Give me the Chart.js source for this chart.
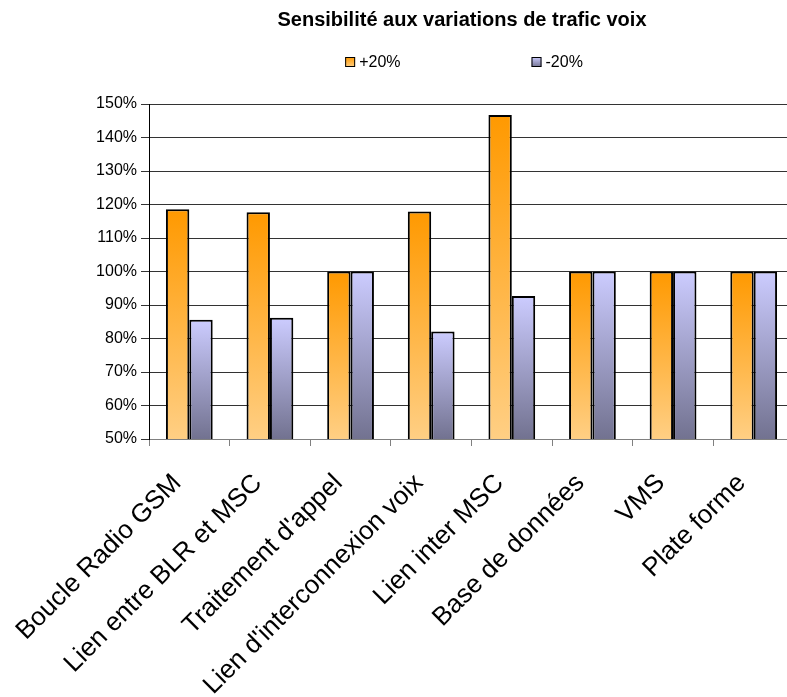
<!DOCTYPE html>
<html>
<head>
<meta charset="utf-8">
<script src="https://cdn.jsdelivr.net/npm/chart.js@4.4.1/dist/chart.umd.min.js"></script>
<style>
  html, body { margin: 0; padding: 0; background: #fff; overflow: hidden; }
  canvas { display: block; }
</style>
</head>
<body>
<canvas id="chart" width="924" height="697"></canvas>
<script>
const chartTitle = 'Sensibilité aux variations de trafic voix';
const categories = [
  'Boucle Radio GSM',
  'Lien entre BLR et MSC',
  "Traitement d'appel",
  "Lien d'interconnexion voix",
  'Lien inter MSC',
  'Base de données',
  'VMS',
  'Plate forme'
];
const seriesNames = ['+20%', '-20%'];
const plusValues = [118.6, 117.7, 100, 117.9, 146.7, 100, 100, 100];
const minusValues = [85.6, 86.2, 100, 82.1, 92.7, 100, 100, 100];
const yMin = 50;
const yMax = 150;
const yStep = 10;

const FONT = '"Liberation Sans", Arial, sans-serif';
const orange = ['#FF9900', '#FFCF84'];
const lavender = ['#CCCCFF', '#727290'];

// vertical gradient per bar, from its top down to the axis base
function barGradient(colors) {
  return (ctx) => {
    const chart = ctx.chart;
    if (!chart.chartArea || ctx.type !== 'data') return colors[1];
    const y = chart.scales.y;
    const top = y.getPixelForValue(ctx.raw);
    const base = y.getPixelForValue(yMin);
    const g = chart.ctx.createLinearGradient(0, top, 0, base);
    g.addColorStop(0, colors[0]);
    g.addColorStop(1, colors[1]);
    return g;
  };
}

// title + legend drawn by hand so they sit where the original puts them
const headerPlugin = {
  id: 'header',
  afterDraw(chart) {
    const c = chart.ctx;
    const cx = chart.width / 2;
    c.save();
    c.fillStyle = '#000';
    c.font = 'bold 20px ' + FONT;
    c.textAlign = 'center';
    c.textBaseline = 'middle';
    c.fillText(chartTitle, cx, 20);

    c.font = '16px ' + FONT;
    c.textAlign = 'left';
    const box = 10, gap = 131, y = 62;
    const widths = seriesNames.map(n => box + 4 + c.measureText(n).width);
    let x = cx + 2 - (widths[0] + gap + widths[1]) / 2;
    [orange, lavender].forEach((cols, i) => {
      const g = c.createLinearGradient(0, y - box / 2, 0, y + box / 2);
      g.addColorStop(0, cols[0]);
      g.addColorStop(1, cols[1]);
      c.fillStyle = g;
      c.fillRect(x, y - box / 2, box, box);
      c.lineWidth = 1;
      c.strokeStyle = '#000';
      c.strokeRect(x + 0.5, y - box / 2 + 0.5, box - 1, box - 1);
      c.fillStyle = '#000';
      c.fillText(seriesNames[i], x + box + 4, y + 1);
      x += widths[i] + gap;
    });
    c.restore();
  }
};

const ctx = document.getElementById('chart').getContext('2d');
const chart = new Chart(ctx, {
  type: 'bar',
  data: {
    labels: categories,
    datasets: [
      {
        label: seriesNames[0],
        data: plusValues,
        backgroundColor: barGradient(orange),
        borderColor: '#000',
        borderWidth: 2,
        borderSkipped: false,
        categoryPercentage: 0.58,
        barPercentage: 1.0
      },
      {
        label: seriesNames[1],
        data: minusValues,
        backgroundColor: barGradient(lavender),
        borderColor: '#000',
        borderWidth: 2,
        borderSkipped: false,
        categoryPercentage: 0.58,
        barPercentage: 1.0
      }
    ]
  },
  options: {
    responsive: false,
    animation: false,
    layout: {
      padding: { top: 104, left: 95, right: 130, bottom: 0 }
    },
    plugins: {
      legend: { display: false },
      title: { display: false },
      tooltip: { enabled: false }
    },
    scales: {
      x: {
        afterFit: (scale) => { scale.height = 258; },
        grid: {
          offset: true,
          drawOnChartArea: false,
          tickLength: 7,
          color: '#808080'
        },
        border: { color: '#808080' },
        ticks: {
          autoSkip: false,
          minRotation: 45,
          maxRotation: 45,
          padding: 22,
          labelOffset: -12,
          color: '#000',
          font: { family: FONT, size: 26 }
        }
      },
      y: {
        min: yMin,
        max: yMax,
        afterFit: (scale) => { scale.width = 54; },
        grid: {
          color: '#333',
          tickLength: 8
        },
        border: { color: '#000' },
        ticks: {
          stepSize: yStep,
          padding: 4,
          color: '#000',
          font: { family: FONT, size: 16 },
          callback: (v) => v + '%'
        }
      }
    }
  },
  plugins: [headerPlugin]
});
</script>
</body>
</html>
